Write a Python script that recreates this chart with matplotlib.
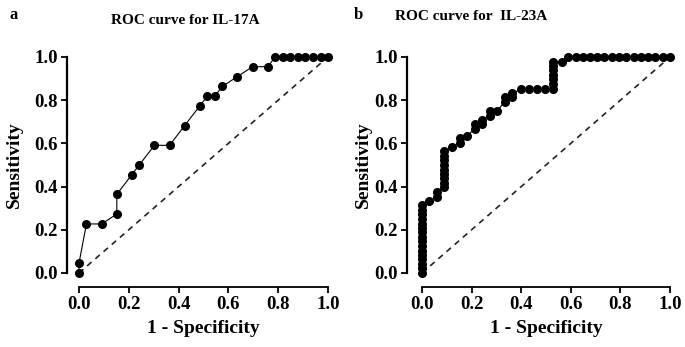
import numpy as np
import matplotlib
matplotlib.use('Agg')
from matplotlib import pyplot as plt

# ROC points (1 - specificity, sensitivity)
fpr_17a = [0, 0, 0.030, 0.091, 0.152, 0.152, 0.212, 0.242, 0.303, 0.364, 0.424, 0.485, 0.515,
           0.545, 0.576, 0.636, 0.697, 0.758, 0.788, 0.818, 0.848, 0.879, 0.909, 0.939, 0.970, 1.0]
sens_17a = [0, 0.045, 0.227, 0.227, 0.273, 0.364, 0.455, 0.5, 0.591, 0.591, 0.682, 0.773, 0.818,
            0.818, 0.864, 0.909, 0.955, 0.955, 1, 1, 1, 1, 1, 1, 1, 1]

fpr_23a = [0, 0, 0, 0, 0, 0, 0, 0, 0, 0, 0, 0, 0, 0, 0, 0,
           0.029, 0.059, 0.059,
           0.088, 0.088, 0.088, 0.088, 0.088, 0.088, 0.088, 0.088, 0.088,
           0.121, 0.152, 0.152, 0.182, 0.212, 0.212, 0.242, 0.242, 0.273, 0.273, 0.303,
           0.333, 0.333, 0.364, 0.364, 0.400, 0.432, 0.464, 0.497,
           0.529, 0.529, 0.529, 0.529, 0.529, 0.529, 0.529, 0.563,
           0.590, 0.619, 0.648, 0.677, 0.706, 0.735, 0.765, 0.794, 0.824, 0.853, 0.882,
           0.912, 0.941, 0.971, 1.0]
sens_23a = [0, 0.021, 0.042, 0.063, 0.083, 0.104, 0.125, 0.146, 0.167, 0.188, 0.208, 0.229,
            0.25, 0.271, 0.292, 0.313,
            0.333, 0.354, 0.375,
            0.396, 0.417, 0.438, 0.458, 0.479, 0.5, 0.521, 0.542, 0.563,
            0.583, 0.604, 0.625, 0.635, 0.667, 0.688, 0.688, 0.708, 0.729, 0.75, 0.75,
            0.792, 0.813, 0.813, 0.833, 0.85, 0.85, 0.85, 0.85,
            0.85, 0.875, 0.896, 0.917, 0.938, 0.958, 0.979, 0.979,
            1, 1, 1, 1, 1, 1, 1, 1, 1, 1, 1, 1, 1, 1, 1]

ticks = [0.0, 0.2, 0.4, 0.6, 0.8, 1.0]

plt.rcParams['font.family'] = ['Liberation Serif', 'DejaVu Serif']
plt.rcParams['font.weight'] = 'bold'

fig = plt.figure(figsize=(6.85, 3.47), dpi=100)
axa = fig.add_axes([0.1153, 0.2133, 0.3635, 0.6225])
axb = fig.add_axes([0.6161, 0.2133, 0.3620, 0.6225])


def style(ax, yoff, ypad):
    ax.plot([0, 1], [0, 1], ls=(0, (3.5, 3)), color='#222222', lw=1.2)
    ax.set_xlim(0, 1)
    ax.set_ylim(0, 1)
    ax.spines['top'].set_visible(False)
    ax.spines['right'].set_visible(False)
    ax.spines['left'].set_position(('outward', yoff))
    ax.spines['bottom'].set_position(('outward', 10))
    ax.spines['left'].set_linewidth(1.6)
    ax.spines['bottom'].set_linewidth(1.3)
    ax.set_xticks(ticks)
    ax.set_yticks(ticks)
    ax.set_xticklabels(['%.1f' % t for t in ticks])
    ax.set_yticklabels(['%.1f' % t for t in ticks])
    ax.tick_params(direction='out', length=4.5, width=1.3, labelsize=13.5, pad=2)
    ax.set_xlabel('1 - Specificity', fontsize=14, fontweight='bold', labelpad=5)
    ax.set_ylabel('Sensitivity', fontsize=14, fontweight='bold', labelpad=ypad)
    ax.patch.set_alpha(0)


style(axa, 8.6, 8)
style(axb, 11, 2)

axa.plot(fpr_17a, sens_17a, '-o', color='black', lw=0.8, ms=5.5, clip_on=False, zorder=3)
axb.plot(fpr_23a, sens_23a, '-o', color='black', lw=0.8, ms=5.5, clip_on=False, zorder=3)

fig.text(185 / 685, 1 - 20 / 347, 'ROC curve for IL-17A', ha='center', va='center',
         fontsize=11, fontweight='bold')
fig.text(471 / 685, 1 - 17 / 347, 'ROC curve for  IL-23A', ha='center', va='center',
         fontsize=11, fontweight='bold')
fig.text(10 / 685, 1 - 15 / 347, 'a', ha='left', va='center', fontsize=12, fontweight='bold')
fig.text(354 / 685, 1 - 15 / 347, 'b', ha='left', va='center', fontsize=12, fontweight='bold')

fig.savefig('out.png', dpi=100)
